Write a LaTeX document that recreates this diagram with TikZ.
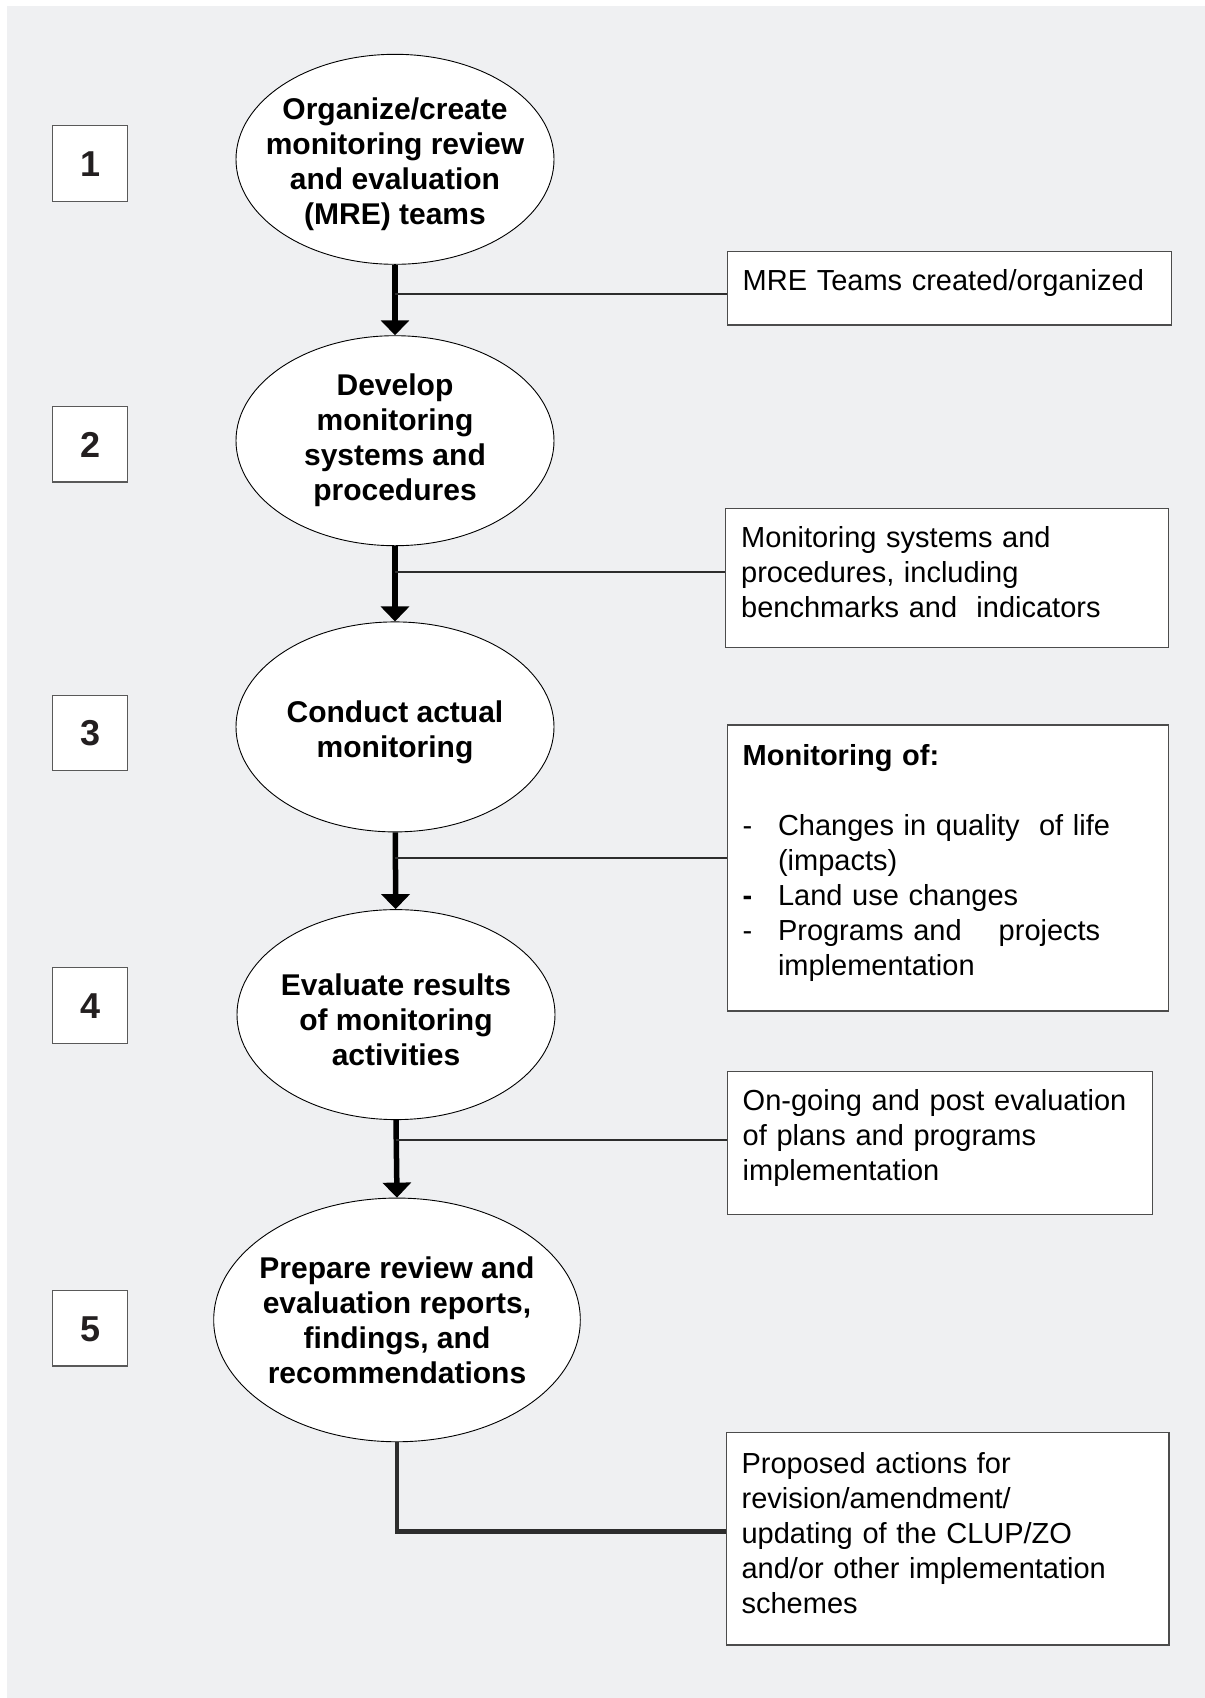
\documentclass[tikz,border=0pt]{standalone}
\usepackage{fontspec}
\setmainfont{Liberation Sans}
\usetikzlibrary{arrows.meta, shapes.geometric}
\definecolor{bgcol}{RGB}{239,240,242}
\definecolor{tapcol}{RGB}{45,45,45}
\definecolor{numcol}{RGB}{35,31,32}
\tikzset{
  stage node/.style={ellipse, draw=black, fill=white, line width=0.9pt,
                     inner sep=0pt, minimum width=318pt, minimum height=210pt},
  stage text/.style={font=\fontsize{30pt}{35pt}\selectfont\bfseries,
                     align=center, text=black, inner sep=0pt},
  num box/.style={rectangle, draw=black!65, fill=white, line width=1.3pt,
                  minimum width=74.6pt, minimum height=75.4pt,
                  text height=25.8pt, text depth=0pt,
                  font=\fontsize{36pt}{40pt}\selectfont\bfseries, text=numcol},
  out box/.style={rectangle, draw=black!70, fill=white, line width=1.3pt,
                  inner xsep=15.4pt, inner ysep=0pt, align=left,
                  font=\fontsize{29pt}{35pt}\selectfont,
                  execute at end node={\par\vspace*{11pt}}},
  flow arr/.style={-{Triangle[width=28pt, length=15pt]}, line width=5.5pt, black},
  tap line/.style={line width=2pt, tapcol},
  end line/.style={line width=4.5pt, tapcol},
}

\begin{document}
\begin{tikzpicture}[x=1pt, y=-1pt]
    \useasboundingbox (0,0) rectangle (1205,1698);
    \fill[bgcol] (6.5,6) rectangle (1205,1698);

    % steps
    \node[stage node, label={[stage text, yshift=-5pt]center:{Organize/create\\monitoring review\\and evaluation\\(MRE) teams}}] (e1) at (395,159.3) {};
    \node[stage node, label={[stage text]center:{Develop\\monitoring\\systems and\\procedures}}] (e2) at (395,440.7) {};
    \node[stage node, label={[stage text, yshift=-5pt]center:{Conduct actual\\monitoring}}] (e3) at (395,726.9) {};
    \node[stage node, label={[stage text, yshift=-5pt]center:{Evaluate results\\of monitoring\\activities}}] (e4) at (396,1014.6) {};
    \node[stage node, minimum width=366.6pt, minimum height=243.7pt,
          label={[stage text]center:{Prepare review and\\evaluation reports,\\findings, and\\recommendations}}] (e5) at (397,1319.9) {};

    % step numbers
    \node[num box] (n1) at (90.1,163.5) {1};
    \node[num box] (n2) at (90.1,444.3) {2};
    \node[num box] (n3) at (90.1,733) {3};
    \node[num box] (n4) at (90.1,1005.5) {4};
    \node[num box] (n5) at (90.1,1328.3) {5};

    % outputs
    \node[out box, minimum width=444.5pt, minimum height=73.2pt, text width=413.7pt] (o1) at (949.5,288.4)
        {MRE Teams created/organized};
    \node[out box, minimum width=443pt, minimum height=138.8pt, text width=412.2pt] (o2) at (947.3,577.9)
        {Monitoring systems and\\procedures, including\\benchmarks and\ \ indicators};
    \node[out box, minimum width=441pt, minimum height=286pt, text width=410.2pt] (o3) at (947.8,868)
        {{\bfseries Monitoring of:}\\[35pt]
         \makebox[35.3pt][l]{-}Changes in quality\ \ of life\\
         \hspace*{35.3pt}(impacts)\\
         \makebox[35.3pt][l]{\bfseries -}Land use changes\\
         \makebox[35.3pt][l]{-}Programs and\hspace{37pt}projects\\
         \hspace*{35.3pt}implementation};
    \node[out box, minimum width=425pt, minimum height=142.6pt, text width=394.2pt] (o4) at (939.8,1143)
        {On-going and post evaluation\\of plans and programs\\implementation};
    \node[out box, minimum width=442.8pt, minimum height=212.3pt, text width=412pt] (o5) at (947.6,1538.9)
        {Proposed actions for\\revision/amendment/\\updating of the CLUP/ZO\\and/or other implementation\\schemes};

    % flow
    \draw[flow arr] (e1) -- (e2);
    \draw[flow arr] (e2) -- (e3);
    \draw[flow arr] (e3) -- (e4);
    \draw[flow arr] (e4.south) -- (e5.north);

    % taps to outputs
    \coordinate (t1) at (395,294);
    \coordinate (t2) at (395,571.7);
    \coordinate (t3) at (395,857.6);
    \coordinate (t4) at (396,1140.3);
    \coordinate (t5) at (397,1531.5);
    \draw[tap line] (t1) -- (t1 -| o1.west);
    \draw[tap line] (t2) -- (t2 -| o2.west);
    \draw[tap line] (t3) -- (t3 -| o3.west);
    \draw[tap line] (t4) -- (t4 -| o4.west);
    \draw[end line, line join=miter] (e5.south) -- (t5) -- (t5 -| o5.west);
\end{tikzpicture}
\end{document}
